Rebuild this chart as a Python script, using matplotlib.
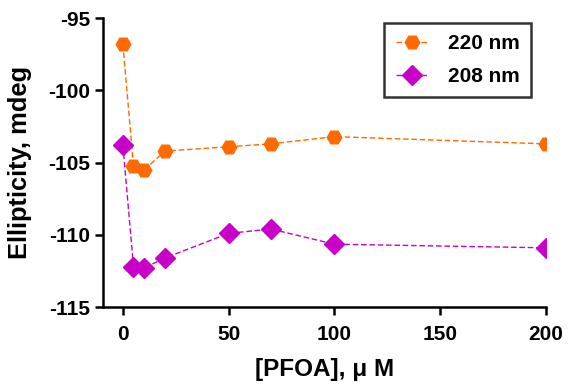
import matplotlib
matplotlib.use('Agg')
import matplotlib.pyplot as plt

plt.rcParams['font.family'] = ['Liberation Sans', 'DejaVu Sans']
plt.rcParams['font.weight'] = 'bold'
plt.rcParams['axes.unicode_minus'] = False

pfoa = [0, 5, 10, 20, 50, 70, 100, 200]
ell_220 = [-96.8, -105.2, -105.5, -104.2, -103.9, -103.7, -103.2, -103.7]
ell_208 = [-103.8, -112.2, -112.3, -111.6, -109.9, -109.6, -110.65, -110.9]

fig = plt.figure(figsize=(5.68, 3.84), dpi=100)
ax = fig.add_axes([0.181, 0.2005, 0.78, 0.752])

ax.plot(pfoa, ell_220, '--', color='#FF6A00', lw=1, marker='H', ms=10.5,
        mec='#FF6A00', mfc='#FF6A00', label='220 nm', dashes=(4, 2))
ax.plot(pfoa, ell_208, '--', color='#C800C8', lw=1, marker='D', ms=10,
        mec='#C800C8', mfc='#C800C8', label='208 nm', dashes=(4, 2))

ax.set_xlim(-9.5, 200)
ax.set_ylim(-115, -95)
ax.set_xticks([0, 50, 100, 150, 200])
ax.set_yticks([-115, -110, -105, -100, -95])
for s in ['top', 'right']:
    ax.spines[s].set_visible(False)
for s in ['left', 'bottom']:
    ax.spines[s].set_linewidth(1.8)
ax.tick_params(width=1.8, length=6, labelsize=15)
ax.tick_params(axis='x', pad=7)
ax.tick_params(axis='y', pad=3)
for lbl in ax.get_xticklabels() + ax.get_yticklabels():
    lbl.set_fontweight('bold')

ax.set_xlabel('[PFOA], \u03bc M', fontsize=17.5, fontweight='bold', labelpad=10)
ax.set_ylabel('Ellipticity, mdeg', fontsize=18.4, fontweight='bold', labelpad=12)

leg = ax.legend(loc='upper right', bbox_to_anchor=(0.99, 1.02), fontsize=15,
                frameon=True, fancybox=False, edgecolor='black',
                handlelength=1.6, handletextpad=0.9, borderpad=0.55,
                labelspacing=0.65)
leg.get_frame().set_linewidth(1.8)
for t in leg.get_texts():
    t.set_fontweight('bold')

fig.savefig('out.png', dpi=100)
